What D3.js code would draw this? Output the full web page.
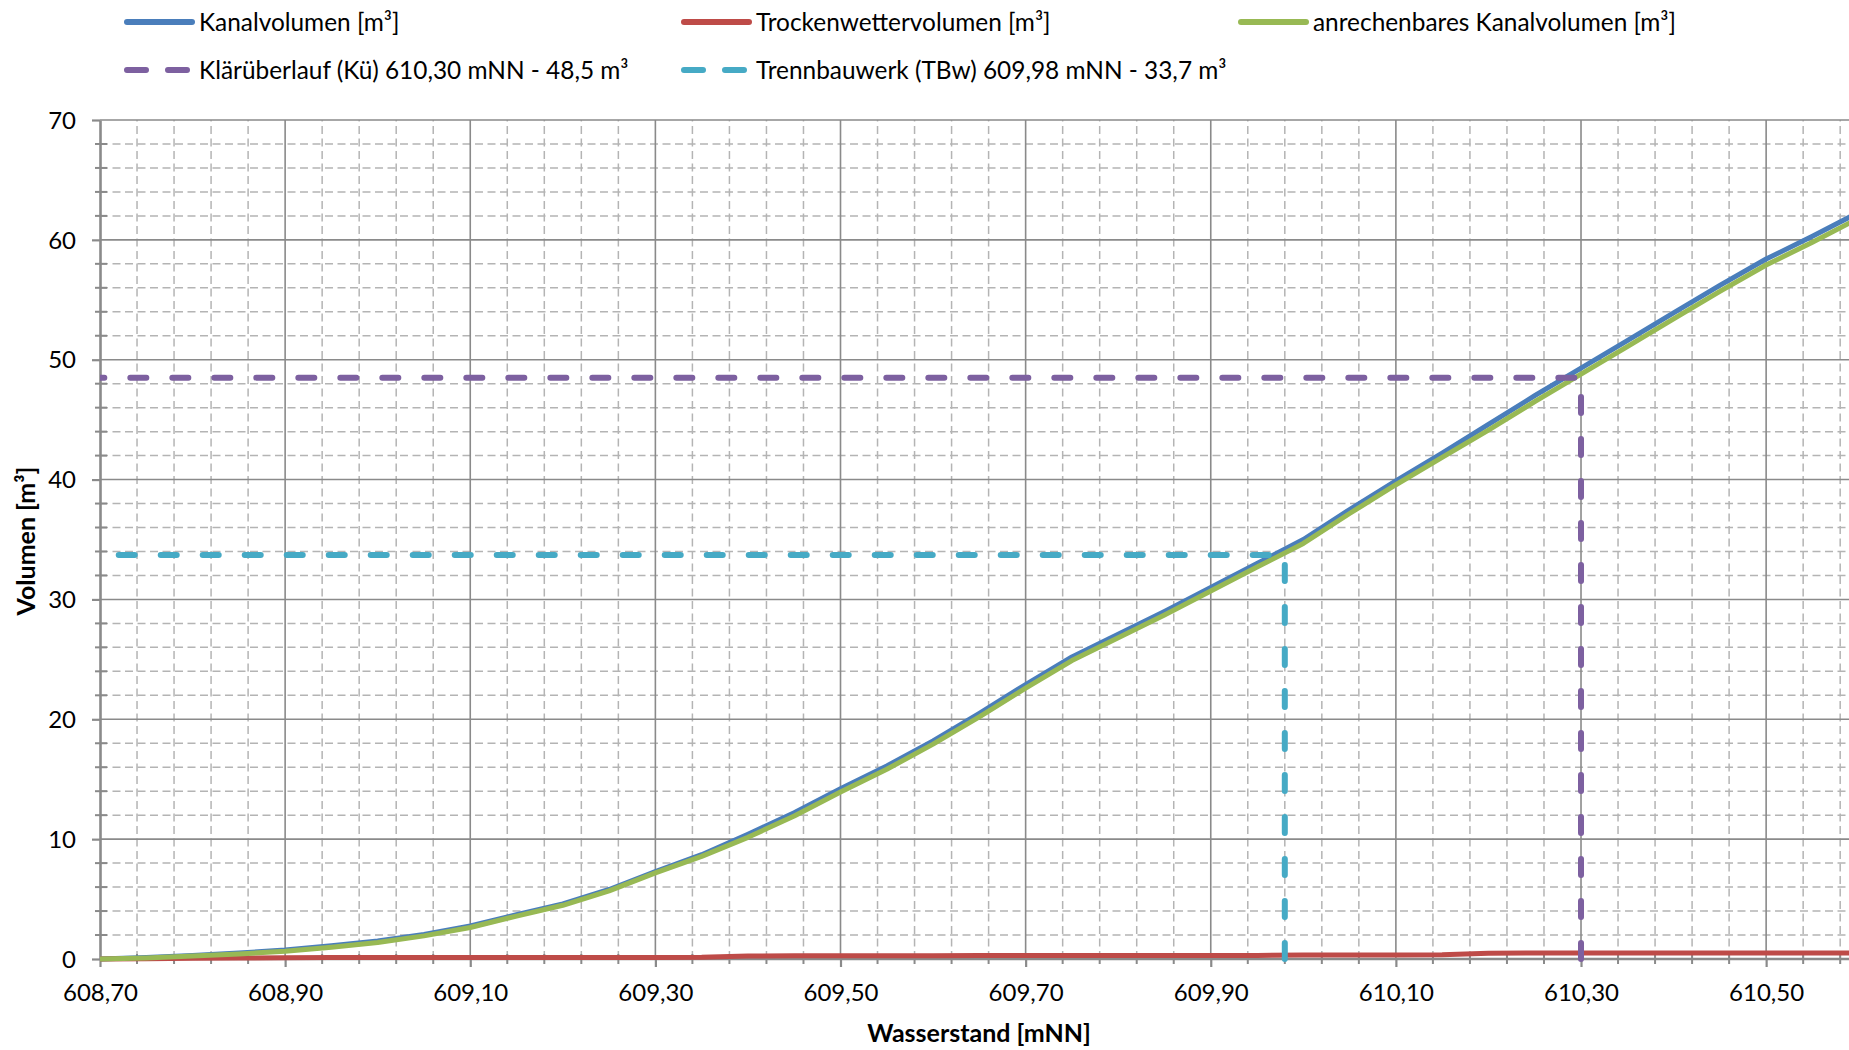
<!DOCTYPE html>
<html>
<head>
<meta charset="utf-8">
<script src="https://cdn.jsdelivr.net/npm/d3@7"></script>
<style>
  html, body { margin: 0; padding: 0; background: #fff; }
  svg { display: block; }
  text { font-family: Lato, "Open Sans", sans-serif; fill: #000; }
</style>
</head>
<body>
<svg id="chart" width="1849" height="1050"></svg>
<script>
// ---------- data ----------
const waterLevels = [608.70, 608.75, 608.80, 608.85, 608.90, 608.95, 609.00, 609.05, 609.10, 609.15,
  609.20, 609.25, 609.30, 609.35, 609.40, 609.45, 609.50, 609.55, 609.60, 609.65,
  609.70, 609.75, 609.80, 609.85, 609.90, 609.95, 610.00, 610.05, 610.10, 610.15,
  610.20, 610.25, 610.30, 610.35, 610.40, 610.45, 610.50, 610.55, 610.60];
const kanalvolumen = [0.0, 0.12, 0.30, 0.50, 0.75, 1.10, 1.50, 2.05, 2.75, 3.70,
  4.60, 5.80, 7.30, 8.70, 10.40, 12.20, 14.20, 16.10, 18.20, 20.50,
  22.90, 25.20, 27.10, 29.00, 31.00, 33.00, 35.00, 37.50, 39.90, 42.20,
  44.60, 47.00, 49.30, 51.60, 53.90, 56.20, 58.40, 60.30, 62.30];
const trockenwettervolumen = [0.0, 0.03, 0.06, 0.08, 0.10, 0.12, 0.12, 0.12, 0.12, 0.12,
  0.12, 0.12, 0.12, 0.14, 0.25, 0.27, 0.27, 0.27, 0.27, 0.30,
  0.30, 0.30, 0.30, 0.30, 0.30, 0.30, 0.33, 0.33, 0.33, 0.35,
  0.48, 0.50, 0.50, 0.50, 0.50, 0.50, 0.50, 0.50, 0.50];
const anrechenbaresVolumen = [0.0, 0.09, 0.24, 0.42, 0.65, 0.98, 1.38, 1.93, 2.63, 3.58,
  4.48, 5.68, 7.18, 8.56, 10.15, 11.93, 13.93, 15.83, 17.93, 20.20,
  22.60, 24.90, 26.80, 28.70, 30.70, 32.70, 34.67, 37.17, 39.57, 41.85,
  44.12, 46.50, 48.80, 51.10, 53.40, 55.70, 57.90, 59.80, 61.80];
const kueLevel = 610.30, kueVolume = 48.5;
const tbwLevel = 609.98, tbwVolume = 33.7;
const xTickValues = [608.70, 608.90, 609.10, 609.30, 609.50, 609.70, 609.90, 610.10, 610.30, 610.50];
const yTickValues = [0, 10, 20, 30, 40, 50, 60, 70];
const legendLabels = ["Kanalvolumen [m³]", "Trockenwettervolumen [m³]", "anrechenbares Kanalvolumen [m³]",
  "Klärüberlauf (Kü) 610,30 mNN - 48,5 m³", "Trennbauwerk (TBw) 609,98 mNN - 33,7 m³"];
const xTitle = "Wasserstand [mNN]";
const yTitle = "Volumen [m³]";

// ---------- layout ----------
const svg = d3.select("#chart");
const pLeft = 100, pTop = 120, pBottom = 959, pRight = 1858.7;
const x = d3.scaleLinear().domain([608.70, 610.60]).range([pLeft, pRight]);
const y = d3.scaleLinear().domain([0, 70]).range([pBottom, pTop]);

const colBlue = "#4a7ebb", colRed = "#be4b48", colGreen = "#98b954", colPurple = "#7d60a0", colCyan = "#46aac5";
const gridMajor = "#8a8a8a", gridMinor = "#b4b4b4";

svg.append("defs").append("clipPath").attr("id", "clip")
  .append("rect").attr("x", pLeft).attr("y", pTop - 10).attr("width", pRight - pLeft + 10).attr("height", pBottom - pTop + 20);

// minor grid
const minorX = d3.range(1, 48).filter(i => i % 5 !== 0).map(i => 608.70 + i * 0.04);
const minorY = d3.range(1, 35).filter(i => i % 5 !== 0).map(i => i * 2);
const g = svg.append("g");
g.selectAll(".mx").data(minorX).enter().append("line")
  .attr("x1", d => x(d)).attr("x2", d => x(d)).attr("y1", pBottom).attr("y2", pTop)
  .attr("stroke", gridMinor).attr("stroke-width", 1.5).attr("stroke-dasharray", "8 4.5");
g.selectAll(".my").data(minorY).enter().append("line")
  .attr("x1", pLeft).attr("x2", 1849).attr("y1", d => y(d)).attr("y2", d => y(d))
  .attr("stroke", gridMinor).attr("stroke-width", 1.5).attr("stroke-dasharray", "8 4.5");

// major grid
g.selectAll(".Mx").data(xTickValues.slice(1)).enter().append("line")
  .attr("x1", d => x(d)).attr("x2", d => x(d)).attr("y1", pBottom).attr("y2", pTop)
  .attr("stroke", gridMajor).attr("stroke-width", 1.6);
g.selectAll(".My").data(yTickValues.slice(1)).enter().append("line")
  .attr("x1", pLeft).attr("x2", 1849).attr("y1", d => y(d)).attr("y2", d => y(d))
  .attr("stroke", gridMajor).attr("stroke-width", 1.6);

// axes
const fmtX = d => d3.format(".2f")(d).replace(".", ",");
const xAxis = d3.axisBottom(x).tickValues(xTickValues).tickFormat(fmtX).tickSizeInner(8).tickSizeOuter(0).tickPadding(17);
const yAxis = d3.axisLeft(y).tickValues(yTickValues).tickSizeInner(8).tickSizeOuter(0).tickPadding(16);
const gx = svg.append("g").attr("transform", `translate(0,${pBottom})`).call(xAxis);
const gy = svg.append("g").attr("transform", `translate(${pLeft},0)`).call(yAxis);
[gx, gy].forEach(a => {
  a.select(".domain").attr("stroke", gridMajor).attr("stroke-width", 2.6);
  a.selectAll(".tick line").attr("stroke", gridMajor).attr("stroke-width", 2.2);
  a.selectAll(".tick text").attr("font-size", 24).attr("font-family", "Lato, 'Open Sans', sans-serif").attr("fill", "#000");
});
gx.select(".domain").attr("d", `M${pLeft},0H1849`);
gy.selectAll(".tick text").attr("dy", "0.34em");
// minor ticks
svg.append("g").selectAll("line").data(minorX).enter().append("line")
  .attr("x1", d => x(d)).attr("x2", d => x(d)).attr("y1", pBottom - 5).attr("y2", pBottom + 5)
  .attr("stroke", gridMajor).attr("stroke-width", 2);
svg.append("g").selectAll("line").data(minorY).enter().append("line")
  .attr("x1", pLeft - 5).attr("x2", pLeft + 7).attr("y1", d => y(d)).attr("y2", d => y(d))
  .attr("stroke", gridMajor).attr("stroke-width", 2);

// axis titles
svg.append("text").attr("x", 979).attr("y", 1042).attr("text-anchor", "middle")
  .attr("font-size", 25).attr("font-weight", "bold").text(xTitle);
svg.append("text").attr("transform", "translate(35,541) rotate(-90)").attr("text-anchor", "middle")
  .attr("font-size", 25).attr("font-weight", "bold").text(yTitle);

// series
const plot = svg.append("g").attr("clip-path", "url(#clip)");
const lineOf = vals => d3.line().x((d, i) => x(waterLevels[i])).y((d, i) => y(vals[i]))(vals);
plot.append("path").attr("d", lineOf(kanalvolumen)).attr("fill", "none").attr("stroke", colBlue)
  .attr("stroke-width", 5).attr("stroke-linejoin", "round");
plot.append("path").attr("d", lineOf(trockenwettervolumen)).attr("fill", "none").attr("stroke", colRed)
  .attr("stroke-width", 5).attr("stroke-linejoin", "round");
plot.append("path").attr("d", lineOf(anrechenbaresVolumen)).attr("fill", "none").attr("stroke", colGreen)
  .attr("stroke-width", 5).attr("stroke-linejoin", "round");

const refLine = d3.line().x(d => x(d[0])).y(d => y(d[1]));
const refs = [
  { pts: [[kueLevel, 0], [kueLevel, kueVolume], [608.70, kueVolume]], color: colPurple },
  { pts: [[tbwLevel, 0], [tbwLevel, tbwVolume], [608.70, tbwVolume]], color: colCyan }
];
refs.forEach(r => {
  plot.append("path").attr("d", refLine(r.pts)).attr("fill", "none").attr("stroke", r.color)
    .attr("stroke-width", 6).attr("stroke-dasharray", "16 26").attr("stroke-linecap", "round")
    .attr("stroke-linejoin", "round");
});

// legend
const legendItems = [
  { label: legendLabels[0], color: colBlue, dashed: false, lx: 124, tx: 199, ly: 22 },
  { label: legendLabels[1], color: colRed, dashed: false, lx: 681, tx: 756, ly: 22 },
  { label: legendLabels[2], color: colGreen, dashed: false, lx: 1238, tx: 1313, ly: 22 },
  { label: legendLabels[3], color: colPurple, dashed: true, lx: 124, tx: 199, ly: 70 },
  { label: legendLabels[4], color: colCyan, dashed: true, lx: 681, tx: 756, ly: 70 }
];
const lg = svg.append("g");
legendItems.forEach(it => {
  lg.append("line").attr("x1", it.lx + 3).attr("x2", it.lx + 68).attr("y1", it.ly).attr("y2", it.ly)
    .attr("stroke", it.color).attr("stroke-width", 6).attr("stroke-linecap", "round")
    .attr("stroke-dasharray", it.dashed ? "19 22" : null);
  lg.append("text").attr("x", it.tx).attr("y", it.ly).attr("dy", "0.35em")
    .attr("font-size", 24.4).text(it.label);
});
</script>
</body>
</html>
